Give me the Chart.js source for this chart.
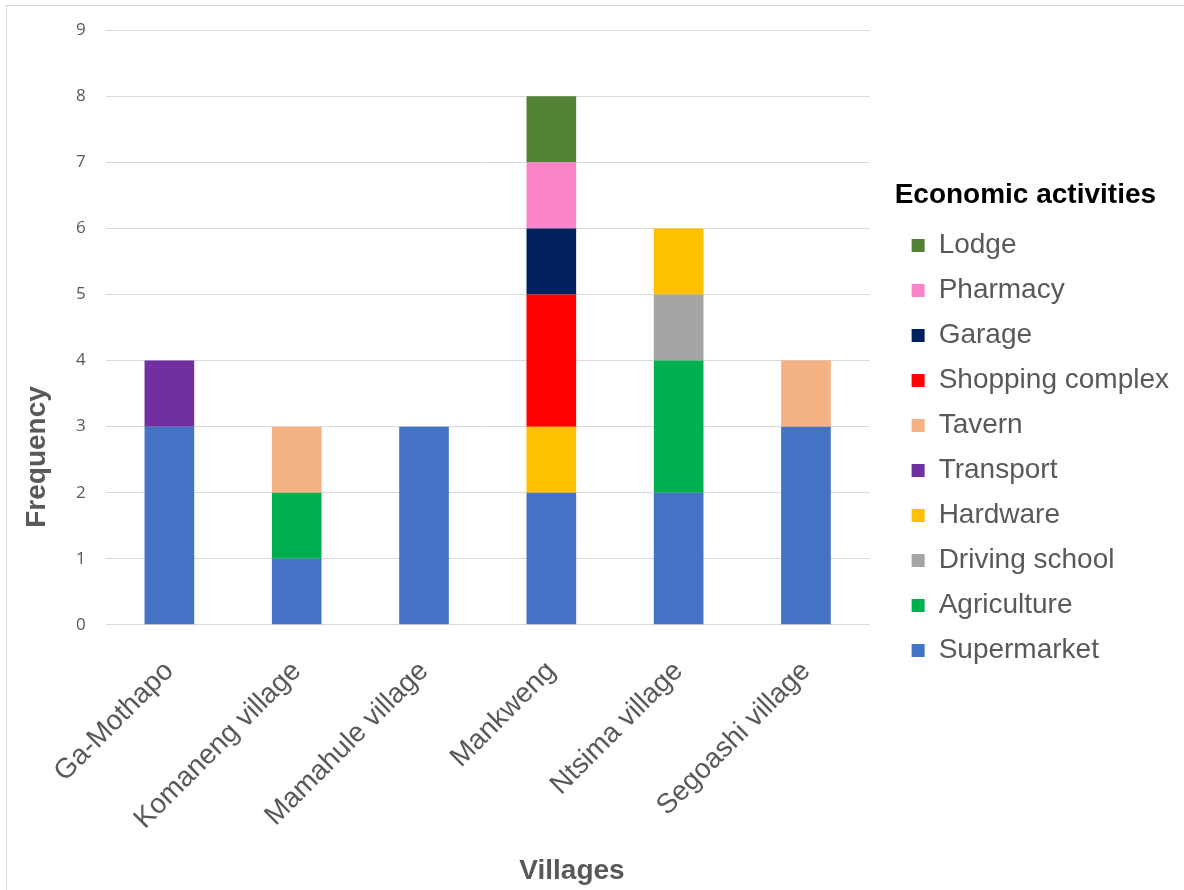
<!DOCTYPE html>
<html>
<head>
<meta charset="utf-8">
<script src="https://cdn.jsdelivr.net/npm/chart.js@4.4.1/dist/chart.umd.min.js"></script>
<style>
  html, body { margin: 0; padding: 0; background: #fff; overflow: hidden; }
  #frame { position: absolute; left: 6px; top: 5px; width: 1200px; height: 900px; border: 1px solid #d9d9d9; }
  #wrap { position: absolute; left: 0; top: 0; width: 1184px; height: 890px; }
</style>
</head>
<body>
<div id="frame"></div>
<div id="wrap"><canvas id="chart"></canvas></div>
<script>
const villages = ['Ga-Mothapo', 'Komaneng village', 'Mamahule village', 'Mankweng', 'Ntsima village', 'Segoashi village'];

// stacked from the bottom up
const supermarket = [3, 1, 3, 2, 2, 3];
const agriculture = [0, 1, 0, 0, 2, 0];
const drivingSchool = [0, 0, 0, 0, 1, 0];
const hardware = [0, 0, 0, 1, 1, 0];
const transport = [1, 0, 0, 0, 0, 0];
const tavern = [0, 1, 0, 0, 0, 1];
const shoppingComplex = [0, 0, 0, 2, 0, 0];
const garage = [0, 0, 0, 1, 0, 0];
const pharmacy = [0, 0, 0, 1, 0, 0];
const lodge = [0, 0, 0, 1, 0, 0];

const series = [
  ['Supermarket', supermarket, '#4472c4'],
  ['Agriculture', agriculture, '#00b050'],
  ['Driving school', drivingSchool, '#a5a5a5'],
  ['Hardware', hardware, '#ffc000'],
  ['Transport', transport, '#7030a0'],
  ['Tavern', tavern, '#f4b183'],
  ['Shopping complex', shoppingComplex, '#ff0000'],
  ['Garage', garage, '#002060'],
  ['Pharmacy', pharmacy, '#f985c8'],
  ['Lodge', lodge, '#548235']
];

const FONT = '"Liberation Sans", Arial, sans-serif';

// axis titles drawn at Excel's spots (centred on the whole area, not the plot)
const axisTitles = {
  id: 'axisTitles',
  afterDraw(chart) {
    const ctx = chart.ctx;
    ctx.save();
    ctx.fillStyle = '#595959';
    ctx.font = 'bold 28px ' + FONT;
    ctx.textAlign = 'center';
    ctx.textBaseline = 'middle';
    ctx.fillText('Villages', 572, 871);
    ctx.translate(37, 457);
    ctx.rotate(-Math.PI / 2);
    ctx.fillText('Frequency', 0, 0);
    ctx.restore();
  }
};

const ctx = document.getElementById('chart').getContext('2d');
new Chart(ctx, {
  type: 'bar',
  data: {
    labels: villages,
    datasets: series.map(([label, data, color]) => ({
      label: label,
      data: data,
      backgroundColor: color,
      borderWidth: 0
    }))
  },
  options: {
    responsive: true,
    maintainAspectRatio: false,
    animation: false,
    layout: { padding: { left: 56, top: 20, bottom: 24, right: 5 } },
    datasets: { bar: { categoryPercentage: 1, barPercentage: 0.39 } },
    scales: {
      x: {
        stacked: true,
        grid: { display: false, drawTicks: false },
        border: { display: false },
        ticks: {
          color: '#595959',
          font: { family: FONT, size: 28 },
          maxRotation: 45,
          minRotation: 45,
          padding: 30
        }
      },
      y: {
        stacked: true,
        min: 0,
        max: 9,
        grid: { color: '#d9d9d9', lineWidth: 1, drawTicks: false },
        border: { display: false },
        ticks: {
          stepSize: 1,
          color: '#595959',
          font: { family: '"Open Sans", sans-serif', size: 17 },
          padding: 20
        }
      },
      // empty spacer between plot and legend
      gap: {
        position: 'right',
        display: true,
        grid: { display: false, drawTicks: false },
        border: { display: false },
        ticks: { display: false },
        afterFit(scale) { scale.width = 25; }
      }
    },
    plugins: {
      legend: {
        position: 'right',
        align: 'start',
        reverse: true,
        maxWidth: 330,
        title: {
          display: true,
          position: 'start',
          text: 'Economic activities',
          color: '#000',
          font: { family: FONT, size: 28, weight: 'bold' },
          padding: { top: 161, bottom: 0 }
        },
        labels: {
          boxWidth: 13,
          boxHeight: 13,
          padding: 17,
          color: '#595959',
          font: { family: FONT, size: 28 }
        }
      },
      tooltip: { enabled: false }
    }
  },
  plugins: [axisTitles]
});
</script>
</body>
</html>
